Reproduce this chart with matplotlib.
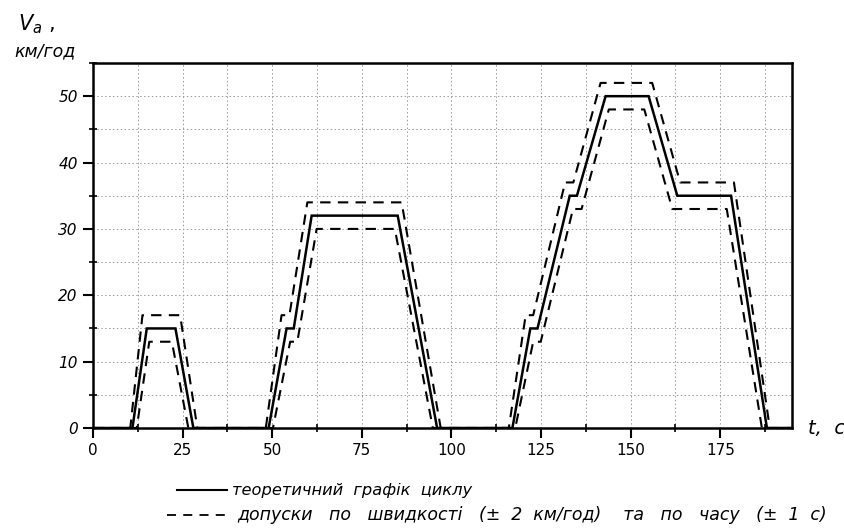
import matplotlib
matplotlib.use("Agg")
import matplotlib.pyplot as plt
from matplotlib.lines import Line2D
from matplotlib.ticker import MultipleLocator

# Theoretical cycle (solid)
t_theory = [0, 11, 15, 23, 28, 49, 54, 56, 61, 85, 96, 117, 122, 124, 133, 135, 143, 155, 163, 178, 188, 195]
v_theory = [0, 0, 15, 15, 0, 0, 15, 15, 32, 32, 0, 0, 15, 15, 35, 35, 50, 50, 35, 35, 0, 0]

# Upper tolerance (dashed)
t_upper = [0, 10.4, 13.8, 24.3, 29.1, 48.2, 52.6, 54.8, 59.8, 86.1, 97.0, 116.0, 120.7, 122.8, 131.7, 134.0, 141.6, 156.0, 163.8, 178.8, 188.8, 195]
v_upper = [0, 0, 17, 17, 0, 0, 17, 17, 34, 34, 0, 0, 17, 17, 37, 37, 52, 52, 37, 37, 0, 0]

# Lower tolerance (dashed)
t_lower = [0, 12.2, 15.7, 22.0, 26.6, 50.2, 55.0, 57.0, 62.4, 84.2, 94.8, 117.8, 122.8, 124.9, 133.9, 136.3, 143.9, 153.8, 161.6, 176.8, 186.6, 195]
v_lower = [0, 0, 13, 13, 0, 0, 13, 13, 30, 30, 0, 0, 13, 13, 33, 33, 48, 48, 33, 33, 0, 0]

x_ticks = [0, 25, 50, 75, 100, 125, 150, 175]
y_ticks = [0, 10, 20, 30, 40, 50]
y_tick_labels = ["0", "10", "20", "30", "40", "50"]

legend_solid = "теоретичний  графік  циклу"
legend_dashed = "допуски   по   швидкості   (±  2  км/год)    та   по   часу   (±  1  с)"

plt.rcParams['font.family'] = ['DejaVu Sans']

fig = plt.figure(figsize=(8.45, 5.30), dpi=100)
ax = fig.add_axes([93/845, 1-428/530, (792-93)/845, (428-63)/530])

ax.plot(t_theory, v_theory, color='black', lw=1.8, solid_joinstyle='miter', zorder=4)
ax.plot(t_upper, v_upper, color='black', lw=1.5, dashes=(5, 3.5), zorder=3)
ax.plot(t_lower, v_lower, color='black', lw=1.5, dashes=(5, 3.5), zorder=3)

ax.set_xlim(0, 195)
ax.set_ylim(0, 55)
ax.set_xticks(x_ticks)
ax.set_xticklabels([str(v) for v in x_ticks], fontsize=11)
ax.set_yticks(y_ticks)
ax.set_yticklabels(y_tick_labels, fontsize=11, fontstyle='italic')
ax.xaxis.set_minor_locator(MultipleLocator(12.5))
ax.yaxis.set_minor_locator(MultipleLocator(5))
ax.grid(True, which='both', color='#9a9a9a', linestyle=(0, (1.5, 2.5)), lw=0.7)
ax.tick_params(which='major', direction='out', length=7, width=1.5, pad=4)
ax.tick_params(which='minor', direction='inout', length=6, width=1.2)
for s in ax.spines.values():
    s.set_linewidth(1.8)
ax.set_axisbelow(True)

# Axis labels
fig.text(18/845, 1-30/530, r'$V_a$ ,', fontsize=15, ha='left', va='baseline')
fig.text(14/845, 1-56/530, 'км/год', fontsize=12.5, fontstyle='italic', ha='left', va='baseline')
fig.text(808/845, 1-428/530, 't,  с', fontsize=14, fontstyle='italic', ha='left', va='center')

# Legend
y1 = 1-490/530
y2 = 1-515/530
fig.add_artist(Line2D([177/845, 227/845], [y1, y1], color='black', lw=1.5, transform=fig.transFigure))
fig.add_artist(Line2D([167/845, 229/845], [y2, y2], color='black', lw=1.3, dashes=(5, 4), transform=fig.transFigure))
fig.text(232/845, y1, legend_solid, fontsize=11.7, fontstyle='italic', ha='left', va='center')
fig.text(237/845, y2, legend_dashed, fontsize=12.5, fontstyle='italic', ha='left', va='center')

fig.savefig('out.png', dpi=100)
